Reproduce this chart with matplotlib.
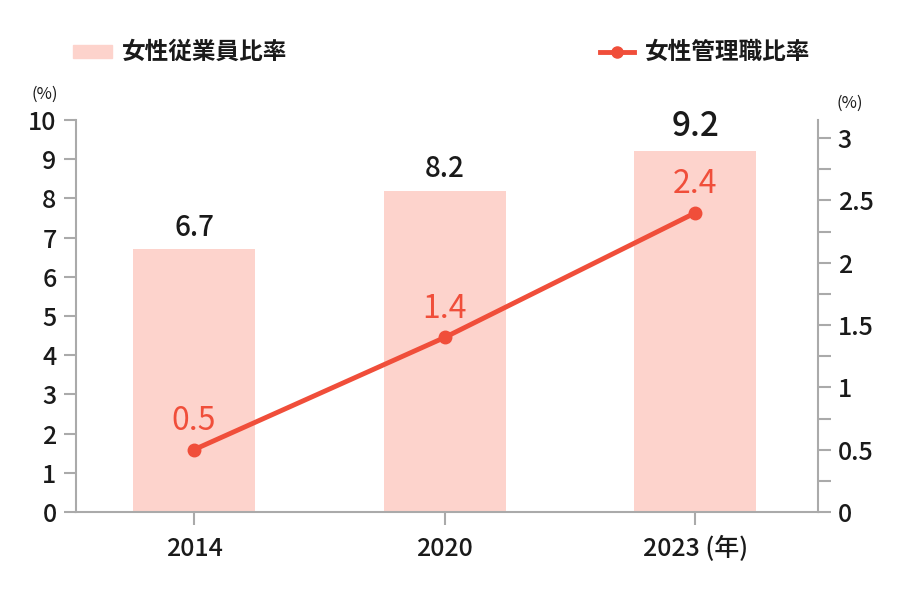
import matplotlib.pyplot as plt
from matplotlib.ticker import MultipleLocator, FuncFormatter

plt.rcParams['font.family'] = ['Noto Sans CJK JP', 'DejaVu Sans']

# データ
years = ["2014", "2020", "2023"]
employee_ratio = [6.7, 8.2, 9.2]     # 女性従業員比率 (%)
manager_ratio = [0.5, 1.4, 2.4]      # 女性管理職比率 (%)

bar_color = "#fdd3cc"
line_color = "#f04e3a"
axis_color = "#aaaaaa"
text_color = "#1a1a1a"

fig = plt.figure(figsize=(8.99, 6), dpi=100)
ax = fig.add_axes([0.0845, 0.1467, 0.8255, 0.6533])
ax2 = ax.twinx()

x = list(range(len(years)))
ax.bar(x, employee_ratio, width=0.487, color=bar_color, zorder=1)
ax2.plot(x, manager_ratio, color=line_color, lw=3.5, marker="o", ms=9, zorder=3)

ax.set_xlim(-0.471, 2.49)
ax.set_ylim(0, 10)
ax2.set_ylim(0, 3.145)

ax.yaxis.set_major_locator(MultipleLocator(1))
ax2.yaxis.set_major_locator(MultipleLocator(0.5))
ax2.yaxis.set_minor_locator(MultipleLocator(0.25))
ax2.yaxis.set_major_formatter(FuncFormatter(lambda v, p: f"{v:g}"))

ax.set_xticks(x)
ax.set_xticklabels(["2014", "2020", "2023 (年)"])

for a in (ax, ax2):
    a.spines["top"].set_visible(False)
    for s in ("left", "right", "bottom"):
        a.spines[s].set_color(axis_color)
        a.spines[s].set_linewidth(1.5)
    a.tick_params(colors=axis_color, labelcolor=text_color, width=1.5, length=9,
                  labelsize=18)
ax.spines["right"].set_visible(False)
ax2.spines["left"].set_visible(False)
ax2.spines["bottom"].set_visible(False)
ax2.tick_params(axis="y", which="minor", length=9, width=1.5, colors=axis_color)
ax.tick_params(axis="x", labelsize=18, pad=8)
ax2.tick_params(axis="y", pad=5)
ax.tick_params(axis="y", pad=5)
for lbl in ax.get_xticklabels() + ax.get_yticklabels() + ax2.get_yticklabels():
    lbl.set_fontweight("medium")

# 数値ラベル
sizes = [20, 20, 24]
for xi, v, fs in zip(x, employee_ratio, sizes):
    ax.text(xi, v + 0.2, f"{v}", ha="center", va="bottom", fontsize=fs,
            color=text_color, fontweight="medium")
for xi, v in zip(x, manager_ratio):
    ax2.text(xi, v + 0.1, f"{v}", ha="center", va="bottom", fontsize=23,
             color=line_color)

fig.text(0.05, 0.835, "(%)", fontsize=12, ha="center", color=text_color)
fig.text(0.945, 0.82, "(%)", fontsize=12, ha="center", color=text_color)

# 凡例
fig.patches.append(plt.Rectangle((0.081, 0.903), 0.044, 0.022, transform=fig.transFigure,
                                 color=bar_color))
fig.text(0.136, 0.913, "女性従業員比率", fontsize=17, va="center", color=text_color,
         fontweight="bold")
fig.lines.append(plt.Line2D([0.667, 0.705], [0.913, 0.913], transform=fig.transFigure,
                            color=line_color, lw=3.5))
fig.lines.append(plt.Line2D([0.686], [0.913], transform=fig.transFigure,
                            color=line_color, marker="o", ms=8))
fig.text(0.717, 0.913, "女性管理職比率", fontsize=17, va="center", color=text_color,
         fontweight="bold")

fig.savefig("out.png", dpi=100)
